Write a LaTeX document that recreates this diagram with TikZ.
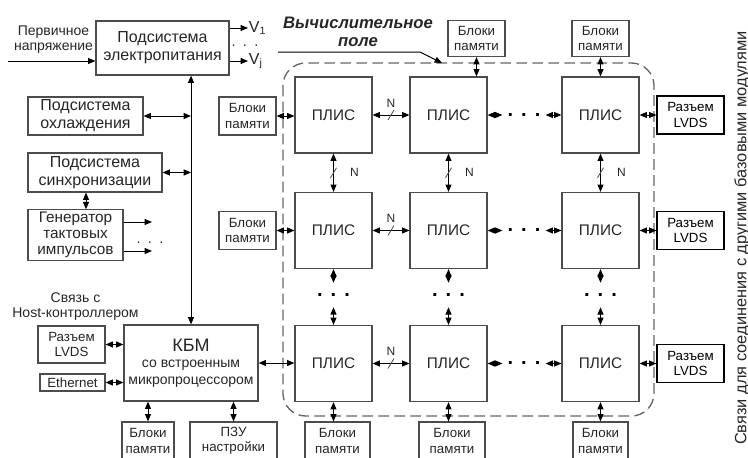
\documentclass[tikz,border=0pt]{standalone}
\usepackage{fontspec}
\setmainfont{Liberation Sans}
\usetikzlibrary{arrows.meta}
\newcommand{\dotsrow}[1]{.\hspace{#1}.\hspace{#1}.}

\begin{document}
\begin{tikzpicture}[x=0.75pt,y=0.75pt,yscale=-1,xscale=1,
  >={Triangle[length=5.5pt,width=4.5pt]},
  blk/.style={draw=black!70,line width=0.9pt,fill=white,text=black!85,align=center,inner sep=1pt},
  bigblk/.style={blk,font=\fontsize{12}{13.5}\selectfont},
  smlblk/.style={blk,font=\fontsize{10}{11.5}\selectfont},
  plis/.style={blk,font=\fontsize{11.5}{13}\selectfont,minimum width=57.75pt,minimum height=57pt},
  mem/.style={smlblk,minimum width=42.75pt,minimum height=28.5pt},
  lvds/.style={smlblk,minimum width=50.25pt,minimum height=28.5pt},
  txt/.style={align=center,text=black!85,inner sep=1pt,font=\fontsize{10.5}{11.5}\selectfont},
  dbl/.style={<->,line width=0.75pt},
  sgl/.style={->,line width=0.75pt},
  nlab/.style={text=black!85,inner sep=0.5pt,font=\fontsize{9}{9}\selectfont},
  vlab/.style={text=black!85,inner sep=0.5pt,anchor=west,font=\fontsize{12}{12}\selectfont},
  bigdots/.style={inner sep=0pt,font=\bfseries\fontsize{15}{15}\selectfont},
  smldots/.style={inner sep=0pt,text=black!80,font=\fontsize{11}{11}\selectfont},
  fieldframe/.style={draw=black!60,line width=1pt,dash pattern=on 8pt off 4pt,rounded corners=17pt}]
\useasboundingbox (0,0) rectangle (748,457);
\clip (0,0) rectangle (748,457);

\draw[fieldframe] (283,63) rectangle (654,416);

\node[txt] (prim) at (53.5,39.5) {Первичное\\напряжение};
\node[bigblk,minimum width=99.75pt,minimum height=40.5pt] (pwr) at (162.5,48) {Подсистема\\электропитания};
\coordinate (pin) at (8,61);
\draw[sgl] (pin) -- (pin -| pwr.west);
\node[vlab] (outV1) at (248,28) {V\textsubscript{1}};
\node[vlab] (outVj) at (248,61) {V\textsubscript{j}};
\draw[sgl] (pwr.east |- outV1.west) -- (outV1.west);
\draw[sgl] (pwr.east |- outVj.west) -- (outVj.west);
\node[smldots] (vdots) at (245,46) {\dotsrow{5.5pt}};

\node[bigblk,minimum width=86.25pt,minimum height=28.5pt] (cool) at (85.5,116) {Подсистема\\охлаждения};
\node[bigblk,minimum width=100.5pt,minimum height=29.25pt] (sync) at (95,172.5) {Подсистема\\синхронизации};
\node[bigblk,font=\fontsize{11.5}{12.2}\selectfont,inner sep=1.5pt,minimum width=71.25pt,minimum height=37pt] (gen) at (75.5,235) {Генератор\\тактовых\\импульсов};
\coordinate (sg) at (86,0);
\draw[dbl] (sg |- sync.south) -- (sg |- gen.north);
\coordinate (clk1) at (152,222);
\coordinate (clkj) at (152,251);
\draw[sgl] (gen.east |- clk1) -- (clk1);
\draw[sgl] (gen.east |- clkj) -- (clkj);
\node[smldots] (gdots) at (150,243) {\dotsrow{5.5pt}};

\node[txt] (host) at (75.5,306.5) {Связь с\\Host-контроллером};
\node[blk,font=\fontsize{10.5}{12.5}\selectfont,minimum width=100.5pt,minimum height=57pt] (kbm) at (191,363) {{\fontsize{13.5}{14}\selectfont КБМ}\\со встроенным\\микропроцессором};
\node[lvds,minimum height=27.75pt] (lvdsK) at (71.5,344.5) {Разъем\\LVDS};
\node[smlblk,minimum width=48.75pt,minimum height=12.75pt] (eth) at (72.5,382.5) {Ethernet};
\node[mem,minimum width=39pt] (memK) at (148,441) {Блоки\\памяти};
\node[mem,minimum width=65.25pt] (pzu) at (233.5,441) {ПЗУ\\настройки};

\draw[dbl] (kbm.north |- pwr.south) -- (kbm.north);
\draw[dbl] (cool.east) -- (cool.east -| kbm.north);
\draw[dbl] (sync.east) -- (sync.east -| kbm.north);
\draw[dbl] (lvdsK.east) -- (lvdsK.east -| kbm.west);
\draw[dbl] (eth.east) -- (eth.east -| kbm.west);
\draw[dbl] (memK.north) -- (memK.north |- kbm.south);
\draw[dbl] (pzu.north) -- (pzu.north |- kbm.south);

\node[align=center,text=black!85,font=\bfseries\itshape\fontsize{12.5}{14}\selectfont] (fld) at (358,32) {Вычислительное\\поле};
\coordinate (fldA) at (278,52);
\coordinate (fldB) at (420,52);
\coordinate (fldC) at (442,63);
\draw[sgl] (fldA) -- (fldB) -- (fldC);

\foreach \r/\y in {1/115,2/230.5,3/363.5}
  \foreach \c/\x in {1/333.5,2/448.5,3/600.5}
    \node[plis] (p\r\c) at (\x,\y) {ПЛИС};

\foreach \r/\y in {1/115,2/230.5,3/363.5}{
  \draw[dbl] (p\r1.east) -- coordinate (h\r) (p\r2.west);
  \draw[line width=0.6pt,black!70] (h\r) ++(-3,5) -- ++(6,-10);
  \path (h\r) ++(0,-12) node[nlab] (nh\r) {N};
  \node[bigdots,minimum width=32pt] (hd\r) at (524,\y) {\dotsrow{6pt}};
  \draw[dbl] (p\r2.east) -- (hd\r.west);
  \draw[dbl] (hd\r.east) -- (p\r3.west);
  \node[lvds,draw=black,text=black] (lv\r) at (690.5,\y) {Разъем\\LVDS};
  \draw[dbl] (p\r3.east) -- (p\r3.east -| lv\r.west);
}

\foreach \c/\x in {1/333.5,2/448.5,3/600.5}{
  \draw[dbl] (p1\c.south) -- coordinate (vl\c) (p2\c.north);
  \draw[line width=0.6pt,black!70] (vl\c) ++(-3,5) -- ++(6,-10);
  \path (vl\c) ++(21,0) node[nlab] (nv\c) {N};
  \node[bigdots,minimum height=18pt] (vd\c) at (\x,295) {\dotsrow{6pt}};
  \draw[dbl] (p2\c.south) -- (vd\c.north);
  \draw[dbl] (vd\c.south) -- (p3\c.north);
}

\node[mem] (memL1) at (247.5,116) {Блоки\\памяти};
\node[mem] (memL2) at (247.5,230.5) {Блоки\\памяти};
\draw[dbl] (memL1.east) -- (memL1.east -| p11.west);
\draw[dbl] (memL2.east) -- (memL2.east -| p21.west);
\draw[dbl] (kbm.east) -- (kbm.east -| p31.west);

\node[mem,minimum height=27pt] (memT2) at (476.5,38.5) {Блоки\\памяти};
\node[mem,minimum height=27pt] (memT3) at (600.5,38.5) {Блоки\\памяти};
\draw[dbl] (memT2.south) -- (memT2.south |- p12.north);
\draw[dbl] (memT3.south) -- (memT3.south |- p13.north);

\node[mem,minimum width=48.75pt] (memB1) at (337.5,441) {Блоки\\памяти};
\node[mem,minimum width=49.5pt] (memB2) at (452,441) {Блоки\\памяти};
\node[mem,minimum width=41.25pt] (memB3) at (600.5,441) {Блоки\\памяти};
\foreach \c in {1,2,3}
  \draw[dbl] (p3\c.south) -- (p3\c.south |- memB\c.north);

\node[rotate=90,text=black!85,inner sep=0pt,font=\fontsize{12.3}{12.3}\selectfont] (side) at (742,238) {Связи для соединения с другими базовыми модулями};
\end{tikzpicture}
\end{document}
